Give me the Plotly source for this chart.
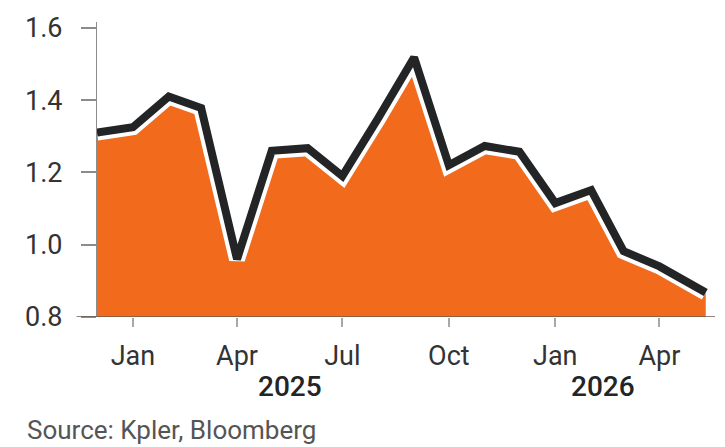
import plotly.graph_objects as go

# Monthly series (first-of-month), last point is the latest reading in May 2026
dates = [
    "2024-12-01", "2025-01-01", "2025-02-01", "2025-03-01", "2025-04-01",
    "2025-05-01", "2025-06-01", "2025-07-01", "2025-08-01", "2025-09-01",
    "2025-10-01", "2025-11-01", "2025-12-01", "2026-01-01", "2026-02-01",
    "2026-03-01", "2026-04-01", "2026-05-11",
]
values = [
    1.31, 1.325, 1.41, 1.378, 0.96,
    1.26, 1.267, 1.19, 1.35, 1.518,
    1.22, 1.273, 1.257, 1.115, 1.151,
    0.982, 0.94, 0.868,
]

tick_dates = ["2025-01-01", "2025-04-01", "2025-07-01", "2025-10-01",
              "2026-01-01", "2026-04-01"]
tick_text = ["Jan", "Apr", "Jul", "Oct", "Jan", "Apr"]
y_ticks = [0.8, 1.0, 1.2, 1.4, 1.6]
y_tick_text = ["0.8", "1.0", "1.2", "1.4", "1.6"]
year_labels = ["2025", "2026"]
year_label_dates = ["2025-05-17", "2026-02-11"]
source_text = "Source: Kpler, Bloomberg"

ORANGE = "#F26B1D"
INK = "#222426"
AXIS = "#8c8c8c"
FONT = "Roboto"

fig = go.Figure()

# filled area under the series
fig.add_trace(go.Scatter(
    x=dates, y=values, mode="lines",
    line=dict(color=ORANGE, width=0),
    fill="tozeroy", fillcolor=ORANGE,
    hoverinfo="skip", showlegend=False,
))
# white halo separating the line from the fill
fig.add_trace(go.Scatter(
    x=dates, y=values, mode="lines",
    line=dict(color="white", width=16),
    hoverinfo="skip", showlegend=False,
))
# main line
fig.add_trace(go.Scatter(
    x=dates, y=values, mode="lines",
    line=dict(color=INK, width=8),
    showlegend=False,
))

for label, d in zip(year_labels, year_label_dates):
    fig.add_annotation(
        x=d, xref="x", y=-0.234, yref="paper",
        text=label, showarrow=False,
        font=dict(family=FONT, size=28, color=INK, weight=500),
        xanchor="center", yanchor="middle",
    )

fig.add_annotation(
    x=-0.1165, xref="paper", y=-0.382, yref="paper",
    text=source_text, showarrow=False,
    font=dict(family=FONT, size=26, color="#555555"),
    xanchor="left", yanchor="middle",
)

# baseline extends slightly left of the value axis
fig.add_shape(
    type="line", xref="paper", yref="y",
    x0=-0.033, x1=1.0, y0=0.8, y1=0.8,
    line=dict(color="#6b5a50", width=1.5), layer="above",
)

fig.update_layout(
    width=725, height=447,
    margin=dict(l=97, r=10, t=22, b=130),
    paper_bgcolor="white", plot_bgcolor="white",
    font=dict(family=FONT, size=27, color="#333333"),
    showlegend=False,
)
fig.update_xaxes(
    type="date", range=["2024-12-01", "2026-05-19"],
    tickvals=tick_dates, ticktext=tick_text,
    ticks="outside", ticklen=9, tickwidth=1.5, tickcolor="#a8a8a8",
    showline=False, showgrid=False, zeroline=False,
    tickfont=dict(family=FONT, size=27, color="#333333"),
    ticklabelstandoff=6,
)
fig.update_yaxes(
    range=[0.8, 1.616],
    tickvals=y_ticks, ticktext=y_tick_text,
    ticks="outside", ticklen=15, tickwidth=1.5, tickcolor=AXIS,
    showline=True, linecolor=AXIS, linewidth=1.2,
    showgrid=False, zeroline=False,
    tickfont=dict(family=FONT, size=27, color="#333333"),
    ticklabelstandoff=13,
)

fig.write_html("out.html")
